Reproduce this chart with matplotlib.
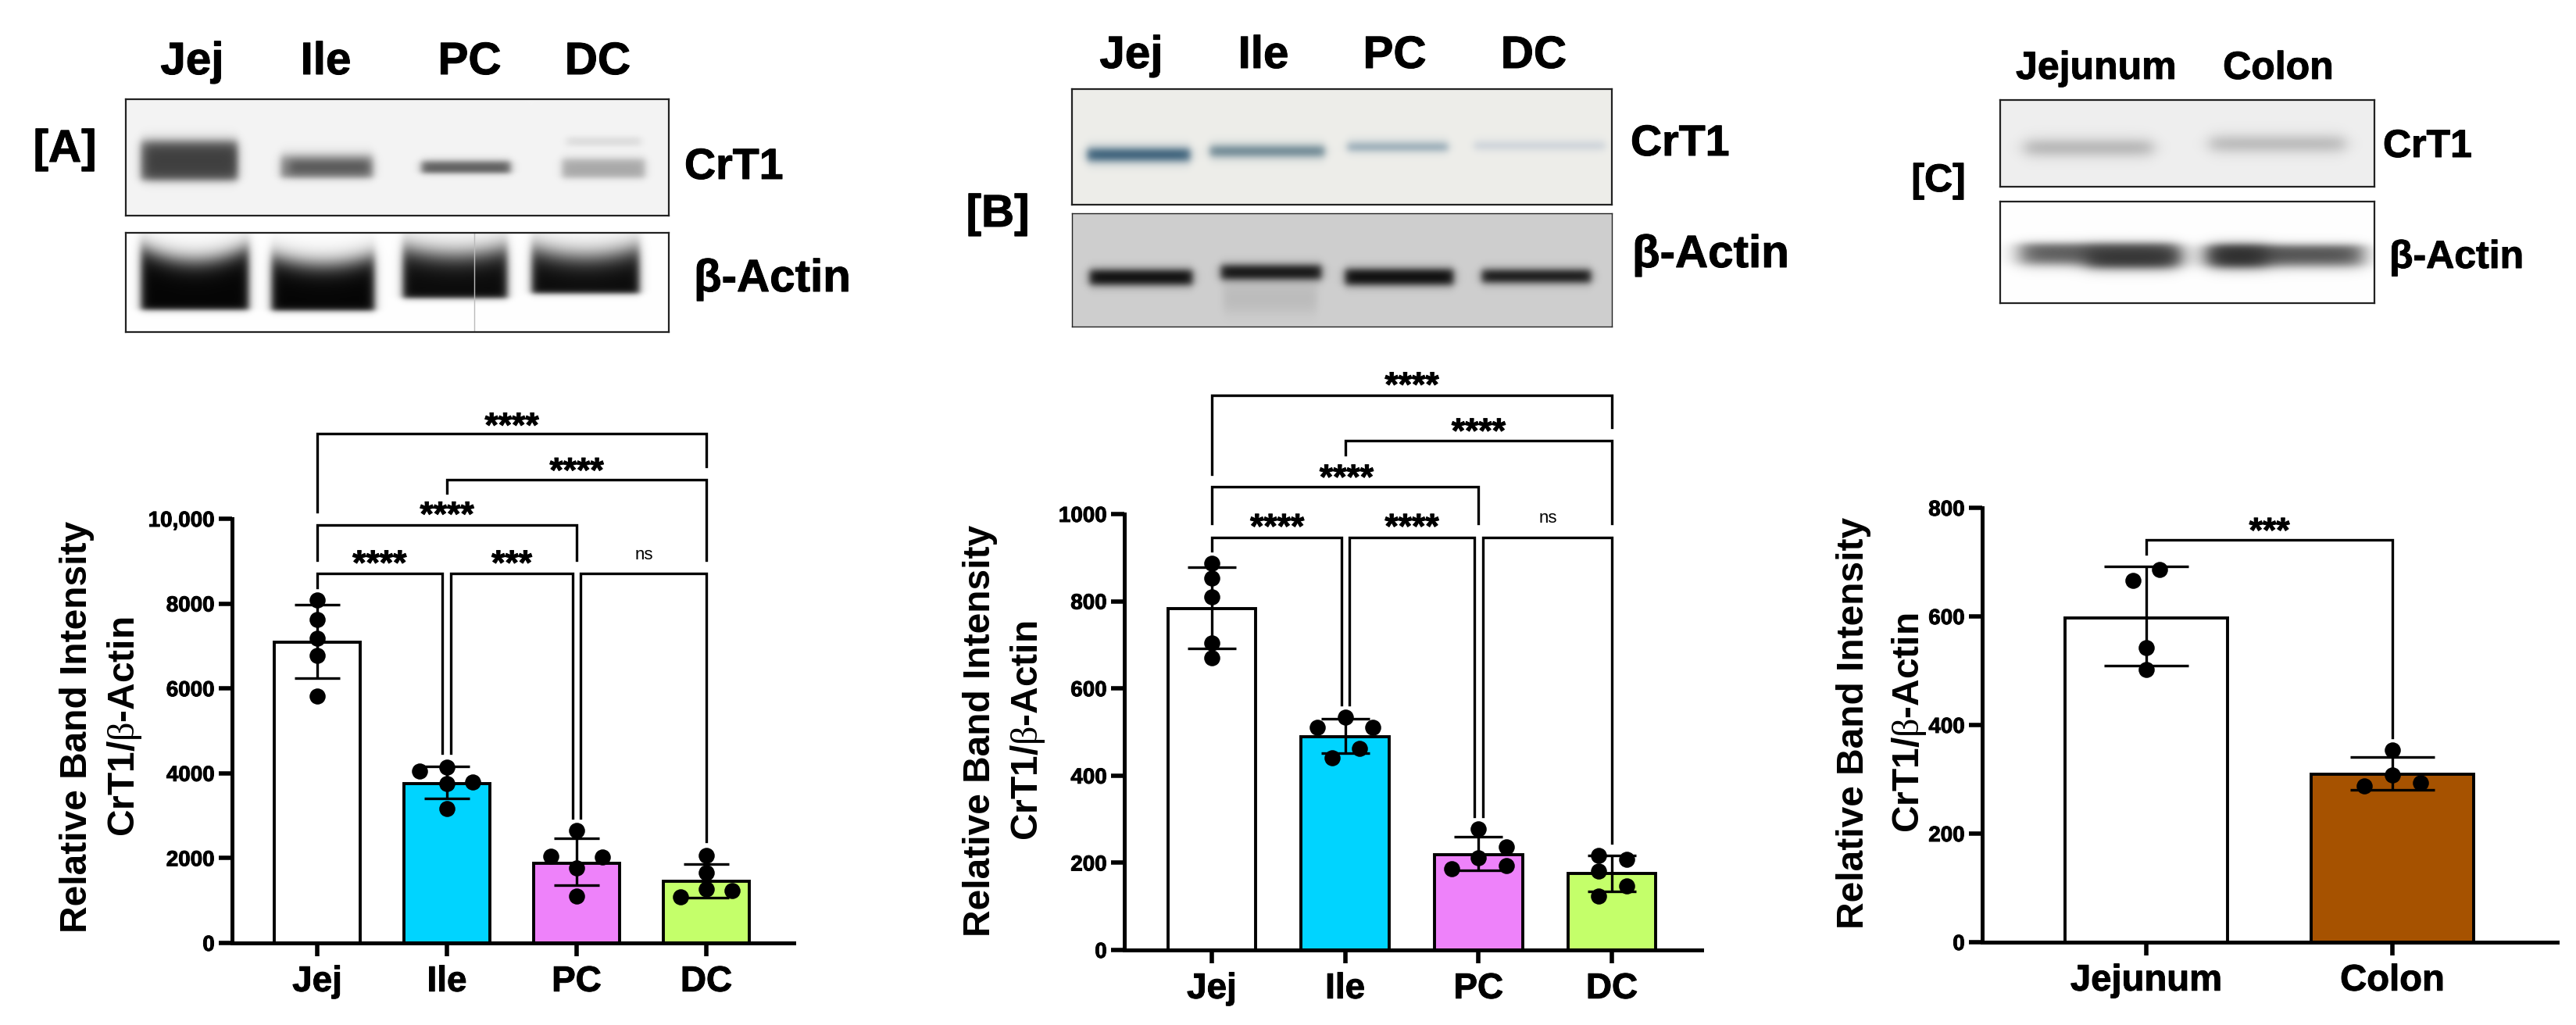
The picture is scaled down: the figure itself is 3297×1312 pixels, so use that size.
import numpy as np
import matplotlib
matplotlib.use('Agg')
import matplotlib.pyplot as plt
import matplotlib.patheffects as pe

plt.rcParams['font.family'] = ['Liberation Sans', 'DejaVu Sans']
plt.rcParams['mathtext.fontset'] = 'custom'
plt.rcParams['mathtext.bf'] = 'Liberation Sans:bold'
plt.rcParams['mathtext.rm'] = 'Liberation Serif'
plt.rcParams['mathtext.default'] = 'bf'

W = 3298
H = 1312

# panel A
a_names = ['Jej', 'Ile', 'PC', 'DC']
a_means = [7084, 3763, 1881, 1458]
a_err_hi = [7977, 4167, 2474, 1863]
a_err_lo = [6246, 3405, 1364, 1063]
a_pts_x = [[0, 0, 0, 0, 0],
           [-0.21, 0, 0, 0.2, 0],
           [0, -0.2, 0.2, 0, 0],
           [0, 0, 0, 0.2, -0.2]]
a_pts_y = [[8090, 7620, 7178, 6773, 5814],
           [4045, 4139, 3763, 3791, 3170],
           [2653, 2041, 2022, 1768, 1110],
           [2070, 1665, 1270, 1242, 1082]]
a_yticks = [0, 2000, 4000, 6000, 8000, 10000]
a_yticklabels = ['0', '2000', '4000', '6000', '8000', '10,000']
# left x, right x, top, left end, right end
a_brackets = [(0, 0.965, 8720, 8372, 4468),
              (1.03, 1.97, 8720, 4468, 2944),
              (2.03, 3, 8720, 2944, 2400),
              (0, 2, 9859, 9031, 9031),
              (1, 3, 10922, 10602, 9031),
              (0, 3, 12013, 10160, 11242)]
a_sig = [(0.48, 9106, '****'), (1.5, 9106, '***'), (2.52, 9144, 'ns'),
         (1, 10254, '****'), (2, 11289, '****'), (1.5, 12351, '****')]

# panel B
b_names = ['Jej', 'Ile', 'PC', 'DC']
b_means = [783, 490, 219, 175]
b_err_hi = [878, 531, 260, 216]
b_err_lo = [692, 452, 183, 135]
b_pts_x = [[0, 0, 0, 0, 0],
           [0, -0.21, 0.21, 0.11, -0.1],
           [0, 0.21, 0, -0.2, 0.21],
           [-0.1, 0.11, -0.1, 0.11, -0.1]]
b_pts_y = [[887, 853, 810, 705, 670],
           [534, 510, 510, 462, 440],
           [277, 237, 212, 187, 194],
           [216, 207, 181, 147, 123]]
b_yticks = [0, 200, 400, 600, 800, 1000]
b_yticklabels = ['0', '200', '400', '600', '800', '1000']
b_brackets = [(0, 0.975, 947, 915, 562),
              (1.03, 1.97, 947, 562, 306),
              (2.035, 3, 947, 306, 245),
              (0, 2, 1063, 978, 978),
              (1, 3, 1169, 1136, 978),
              (0, 3, 1272, 1091, 1199)]
b_sig = [(0.49, 986, '****'), (1.5, 986, '****'), (2.52, 990, 'ns'),
         (1.01, 1099, '****'), (2, 1205, '****'), (1.5, 1311, '****')]

# panel C
c_names = ['Jejunum', 'Colon']
c_means = [597, 309]
c_err_hi = [692, 341]
c_err_lo = [510, 280]
c_pts_x = [[0.055, -0.055, 0, 0],
           [0, 0, 0.113, -0.113]]
c_pts_y = [[687, 666, 543, 502],
           [354, 308, 293, 288]]
c_yticks = [0, 200, 400, 600, 800]
c_yticklabels = ['0', '200', '400', '600', '800']
c_brackets = [(0, 1, 741, 715, 377)]
c_sig = [(0.5, 770, '***')]

abcd_colors = ['white', '#00d4ff', '#ee82fa', '#c4ff6a']
c_colors = ['white', '#a65200']

heavy = [pe.withStroke(linewidth=0.7, foreground='black')]


def px_axes(x0, y0, x1, y1):
    return fig.add_axes([x0 / W, 1 - y1 / H, (x1 - x0) / W, (y1 - y0) / H])


def bar_panel(box, xlim, ylim, names, means, hi, lo, px, py, yticks, yticklabels,
              brackets, sig, colors, capsize, tick_fs, name_fs):
    ax = px_axes(*box)
    ax.patch.set_alpha(0)
    xs = np.arange(len(names))
    ax.bar(xs, means, width=0.66, color=colors, edgecolor='black', linewidth=2.8, zorder=2)
    for i in xs:
        ax.errorbar(i, means[i], yerr=[[means[i] - lo[i]], [hi[i] - means[i]]], color='black',
                    elinewidth=2.4, capsize=capsize, capthick=2.4, zorder=3, clip_on=False)
        ax.scatter(np.array(px[i]) + i, py[i], s=190, color='black', zorder=4, clip_on=False)
    for x0, x1, top, left, right in brackets:
        ax.plot([x0, x0, x1, x1], [left, top, top, right], color='black', lw=2.4,
                solid_joinstyle='miter', clip_on=False, zorder=5)
    for x, y, s in sig:
        if s == 'ns':
            ax.annotate(s, (x, y), xytext=(0, 0), textcoords='offset points', ha='center',
                        va='center', fontsize=16, annotation_clip=False)
        else:
            ax.annotate(s, (x, y), xytext=(0, -8), textcoords='offset points', ha='center',
                        va='center', fontsize=32, fontweight='bold', annotation_clip=False,
                        path_effects=heavy)
    ax.set_xlim(*xlim)
    ax.set_ylim(*ylim)
    ax.set_xticks(xs)
    ax.set_xticklabels(names, fontsize=name_fs, fontweight='bold', path_effects=heavy)
    ax.set_yticks(yticks)
    ax.set_yticklabels(yticklabels, fontsize=tick_fs, fontweight='bold', path_effects=heavy)
    ax.tick_params(axis='both', width=4, length=12, pad=4)
    ax.tick_params(axis='x', pad=8)
    for s in ['top', 'right']:
        ax.spines[s].set_visible(False)
    for s in ['left', 'bottom']:
        ax.spines[s].set_linewidth(3.6)
    return ax


def soft(v):
    return 1 / (1 + np.exp(-v))


def blot(box, bg, bands, edge='#222222', lw=1.6, sx=3):
    x0, y0, x1, y1 = box
    ax = px_axes(x0, y0, x1, y1)
    X, Y = np.meshgrid(np.arange(x0, x1), np.arange(y0, y1))
    img = np.ones((y1 - y0, x1 - x0, 3)) * np.array(matplotlib.colors.to_rgb(bg))
    for bx0, bx1, by0, by1, col, st, sb, bow in bands:
        xc = (bx0 + bx1) / 2
        top = by0 + bow * (1 - ((X - xc) / ((bx1 - bx0) / 2)) ** 2)
        a = soft((X - bx0) / sx) * soft((bx1 - X) / sx) * soft((Y - top) / st) * soft((by1 - Y) / sb)
        a = a[:, :, None]
        img = img * (1 - a) + np.array(matplotlib.colors.to_rgb(col)) * a
    ax.imshow(img, extent=(x0, x1, y1, y0), aspect='auto', interpolation='bilinear')
    ax.set_xticks([])
    ax.set_yticks([])
    for s in ax.spines.values():
        s.set_color(edge)
        s.set_linewidth(lw)
    return ax


def label(x, y, s, fs, ha='center'):
    fig.text(x / W, 1 - y / H, s, fontsize=fs, fontweight='bold', ha=ha, va='center',
             path_effects=heavy)


def ylabel(x1, x2, y, fs):
    fig.text(x1 / W, 1 - y / H, 'Relative Band Intensity', fontsize=fs, fontweight='bold',
             rotation=90, ha='center', va='center')
    fig.text(x2 / W, 1 - y / H, r'CrT1/$\mathrm{\beta}$-Actin', fontsize=fs, fontweight='bold',
             rotation=90, ha='center', va='center')


fig = plt.figure(figsize=(W / 100, H / 100), dpi=100, facecolor='white')

# blots panel A
blot((161, 127, 856, 276), '#f4f4f4',
     [(180, 304, 180, 230, '#555555', 4, 3, 0),
      (190, 298, 190, 222, '#3f3f3f', 4, 4, 0),
      (359, 477, 199, 227, '#7c7c7c', 4, 2.5, 0),
      (372, 470, 207, 220, '#555555', 3, 3, 0),
      (539, 653, 206, 221, '#5a5a5a', 2.5, 2, 0),
      (719, 825, 203, 227, '#a8a8a8', 3, 2.5, 0),
      (725, 820, 175, 186, '#dcdcdc', 2, 2, 0)])
ax_act = blot((161, 298, 856, 425), 'white',
              [(180, 318, 315, 396, '#050505', 8, 2, 18),
               (347, 479, 326, 397, '#050505', 8, 2, 12),
               (515, 649, 316, 381, '#0a0a0a', 9, 2, 10),
               (680, 818, 316, 375, '#0a0a0a', 9, 2, 12)])
ax_act.plot([607, 607], [298, 425], color='#bbbbbb', lw=1)
ax_act.set_xlim(161, 856)
ax_act.set_ylim(425, 298)

# blots panel B
blot((1372, 114, 2063, 262), '#eeeeea',
     [(1391, 1523, 190, 205, '#1f4a68', 3.5, 3.5, 0),
      (1548, 1695, 187, 199, '#50707f', 3.5, 3.5, 0),
      (1724, 1853, 183, 192, '#7f98a8', 3.5, 3, 0),
      (1886, 2054, 182, 190, '#c2cad4', 3.5, 3, 0)])
blot((1372, 273, 2063, 418), '#cfcfcf',
     [(1565, 1685, 365, 398, '#bababa', 6, 6, 0),
      (1394, 1526, 345, 364, '#050505', 3, 3, 0),
      (1562, 1691, 339, 357, '#0a0a0a', 3, 3, 0),
      (1721, 1860, 344, 364, '#050505', 3, 3, 0),
      (1896, 2036, 345, 361, '#0a0a0a', 3, 3, 0)], lw=1)

# blots panel C
blot((2560, 128, 3039, 239), '#efefef',
     [(2591, 2755, 181, 196, '#a2a2a2', 5, 5, 0),
      (2828, 3001, 176, 191, '#a8a8a8', 5, 5, 0)], sx=6)
blot((2560, 258, 3039, 388), 'white',
     [(2585, 2787, 312, 338, '#5a5a5a', 3, 4, 0),
      (2670, 2787, 318, 342, '#333333', 4, 4, 0),
      (2825, 3024, 314, 340, '#505050', 3, 4, 0),
      (2830, 2900, 316, 340, '#2c2c2c', 4, 4, 0)], sx=8)

# blot labels
for x, s in zip([246, 417, 601, 765], a_names):
    label(x, 80, s, 42)
for x, s in zip([1448, 1617, 1785, 1963], b_names):
    label(x, 72, s, 42)
for x, s in zip([2683, 2916], c_names):
    label(x, 88, s, 36)
label(83, 192, '[A]', 42)
label(1277, 275, '[B]', 42)
label(2481, 232, '[C]', 36)
label(876, 215, 'CrT1', 40, ha='left')
label(888, 358, 'β-Actin', 42, ha='left')
label(2087, 185, 'CrT1', 40, ha='left')
label(2089, 327, 'β-Actin', 42, ha='left')
label(3050, 188, 'CrT1', 36, ha='left')
label(3058, 330, 'β-Actin', 36, ha='left')

bar_panel((297, 664, 1016, 1207), (-0.657, 3.675), (0, 10000), a_names, a_means, a_err_hi, a_err_lo,
          a_pts_x, a_pts_y, a_yticks, a_yticklabels, a_brackets, a_sig, abcd_colors, 21, 20, 33)
bar_panel((1439, 658, 2178, 1216), (-0.656, 3.674), (0, 1000), b_names, b_means, b_err_hi, b_err_lo,
          b_pts_x, b_pts_y, b_yticks, b_yticklabels, b_brackets, b_sig, abcd_colors, 22, 20, 33)
bar_panel((2537, 650, 3273, 1206), (-0.667, 1.67), (0, 800), c_names, c_means, c_err_hi, c_err_lo,
          c_pts_x, c_pts_y, c_yticks, c_yticklabels, c_brackets, c_sig, c_colors, 39, 20, 34)

ylabel(99, 160, 930, 34.5)
ylabel(1255, 1315, 935, 34.5)
ylabel(2373, 2444, 925, 34.5)

fig.savefig('out.png', dpi=100)
